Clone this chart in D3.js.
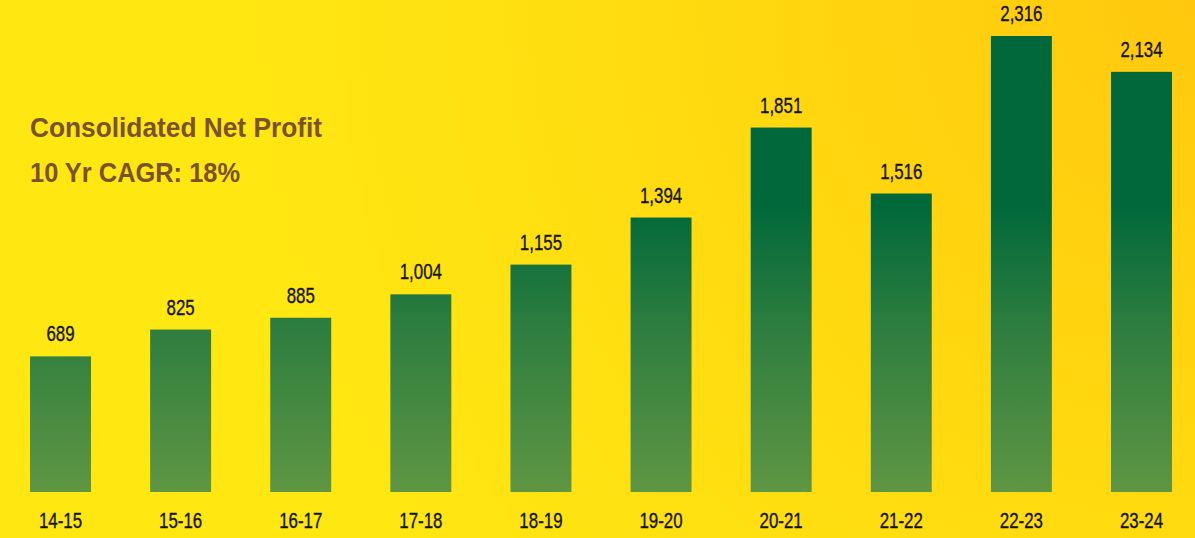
<!DOCTYPE html>
<html>
<head>
<meta charset="utf-8">
<script src="https://cdn.jsdelivr.net/npm/d3@7"></script>
<style>
  html, body { margin: 0; padding: 0; overflow: hidden; }
  svg { display: block; }
</style>
</head>
<body>
<svg id="chart"></svg>
<script>
// data
const years = ["14-15", "15-16", "16-17", "17-18", "18-19", "19-20", "20-21", "21-22", "22-23", "23-24"];
const netProfit = [689, 825, 885, 1004, 1155, 1394, 1851, 1516, 2316, 2134];
const titleLines = ["Consolidated Net Profit", "10 Yr CAGR: 18%"];

const width = 1195;
const height = 538;
const baseY = 492;

const svg = d3.select("#chart")
	.attr("width", width)
	.attr("height", height);

const defs = svg.append("defs");

// yellow background, a bit more orange towards the top right
const bg = defs.append("radialGradient")
	.attr("id", "bgGrad")
	.attr("gradientUnits", "userSpaceOnUse")
	.attr("cx", width).attr("cy", 0).attr("r", 950);
bg.append("stop").attr("offset", "0").attr("stop-color", "#ffc80e");
bg.append("stop").attr("offset", "0.5").attr("stop-color", "#ffd90f");
bg.append("stop").attr("offset", "1").attr("stop-color", "#ffe712");

// one gradient for all bars, fixed on the page so short bars start lighter
const barGrad = defs.append("linearGradient")
	.attr("id", "barGrad")
	.attr("gradientUnits", "userSpaceOnUse")
	.attr("x1", 0).attr("x2", 0)
	.attr("y1", 205).attr("y2", baseY);
barGrad.append("stop").attr("offset", "0").attr("stop-color", "#00683a");
barGrad.append("stop").attr("offset", "0.42").attr("stop-color", "#2d7d3f");
barGrad.append("stop").attr("offset", "1").attr("stop-color", "#5f9643");

svg.append("rect")
	.attr("width", width)
	.attr("height", height)
	.attr("fill", "url(#bgGrad)");

const x = d3.scaleBand()
	.domain(years)
	.range([0, 1202])
	.paddingInner(0.4925)
	.paddingOuter(0.25);

const y = d3.scaleLinear()
	.domain([0, d3.max(netProfit)])
	.range([baseY, 36]);

const rows = years.map((yr, i) => ({ year: yr, value: netProfit[i] }));

svg.selectAll(".bar")
	.data(rows)
	.join("rect")
	.attr("class", "bar")
	.attr("x", d => x(d.year))
	.attr("width", x.bandwidth())
	.attr("y", d => y(d.value))
	.attr("height", d => y(0) - y(d.value))
	.attr("fill", "url(#barGrad)");

// no condensed font installed, so squeeze a regular one
const labelFont = "'Liberation Sans', Arial, sans-serif";
const squeeze = 0.75;

// values above the bars
svg.selectAll(".val")
	.data(rows)
	.join("text")
	.attr("class", "val")
	.attr("transform", d => `translate(${x(d.year) + x.bandwidth() / 2}, ${y(d.value) - 15}) scale(${squeeze}, 1)`)
	.attr("text-anchor", "middle")
	.style("font-family", labelFont)
	.style("font-size", "22.5px")
	.style("fill", "#141414")
	.style("stroke", "#141414")
	.style("stroke-width", 0.35)
	.text(d => d3.format(",")(d.value));

// year labels under the bars
const xAxis = svg.append("g")
	.attr("transform", `translate(0, ${baseY})`)
	.call(d3.axisBottom(x).tickSize(0).tickPadding(20));
xAxis.select(".domain").remove();
xAxis.selectAll("text")
	.attr("dy", "0.71em")
	.attr("transform", `scale(${squeeze}, 1)`)
	.style("font-family", labelFont)
	.style("font-size", "22.5px")
	.style("fill", "#141414")
	.style("stroke", "#141414")
	.style("stroke-width", 0.35);

// title block
const titleWidths = [292, 210];
svg.selectAll(".title")
	.data(titleLines)
	.join("text")
	.attr("class", "title")
	.attr("x", 30)
	.attr("y", (d, i) => 137 + i * 45)
	.attr("textLength", (d, i) => titleWidths[i])
	.attr("lengthAdjust", "spacingAndGlyphs")
	.style("font-family", "'Liberation Sans', Arial, sans-serif")
	.style("font-weight", "bold")
	.style("font-size", "28px")
	.style("fill", "#7a522f")
	.text(d => d);
</script>
</body>
</html>
